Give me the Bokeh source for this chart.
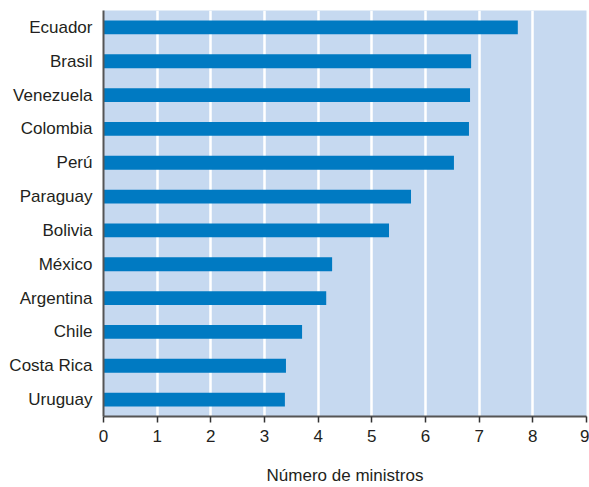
from bokeh.plotting import figure
from bokeh.models import FactorRange, Range1d, FixedTicker
from bokeh.embed import file_html
from bokeh.resources import INLINE

countries = ["Ecuador", "Brasil", "Venezuela", "Colombia", "Perú", "Paraguay",
             "Bolivia", "México", "Argentina", "Chile", "Costa Rica", "Uruguay"]
ministers = [7.72, 6.85, 6.83, 6.81, 6.53, 5.73, 5.32, 4.26, 4.15, 3.70, 3.40, 3.38]
x_ticks = [0, 1, 2, 3, 4, 5, 6, 7, 8, 9]
x_label = "Número de ministros"

FONT = "Liberation Sans"
TXT = "#231f20"

p = figure(width=589, height=487, output_backend="svg", toolbar_location=None,
           y_range=FactorRange(*list(reversed(countries)), range_padding=0),
           x_range=Range1d(0, 9))
p.min_border_left = 103
p.min_border_top = 10
p.min_border_right = 3
p.min_border_bottom = 69
p.outline_line_color = None
p.border_fill_color = "white"
p.background_fill_color = "#c6d9f0"

p.hbar(y=countries, right=ministers, left=0, height=0.41, color="#007ac2", line_color=None)

p.ygrid.grid_line_color = None
p.xgrid.grid_line_color = "white"
p.xgrid.grid_line_width = 2.5
p.xgrid.ticker = FixedTicker(ticks=x_ticks)

xa = p.xaxis[0]
xa.ticker = FixedTicker(ticks=x_ticks)
xa.axis_line_color = "#555555"
xa.axis_line_width = 2
xa.major_tick_line_color = "#333333"
xa.major_tick_line_width = 1.5
xa.major_tick_in = 0
xa.major_tick_out = 6
xa.minor_tick_line_color = None
xa.major_label_text_font = FONT
xa.major_label_text_font_size = "17px"
xa.major_label_text_color = TXT
xa.major_label_standoff = 7
xa.axis_label = x_label
xa.axis_label_text_font = FONT
xa.axis_label_text_font_size = "17px"
xa.axis_label_text_font_style = "normal"
xa.axis_label_text_color = TXT
xa.axis_label_standoff = 21

ya = p.yaxis[0]
ya.axis_line_color = "#555555"
ya.axis_line_width = 2
ya.major_tick_line_color = None
ya.minor_tick_line_color = None
ya.major_label_text_font = FONT
ya.major_label_text_font_size = "17px"
ya.major_label_text_color = TXT
ya.major_label_standoff = 5

open("out.html", "w").write(file_html(p, INLINE))
